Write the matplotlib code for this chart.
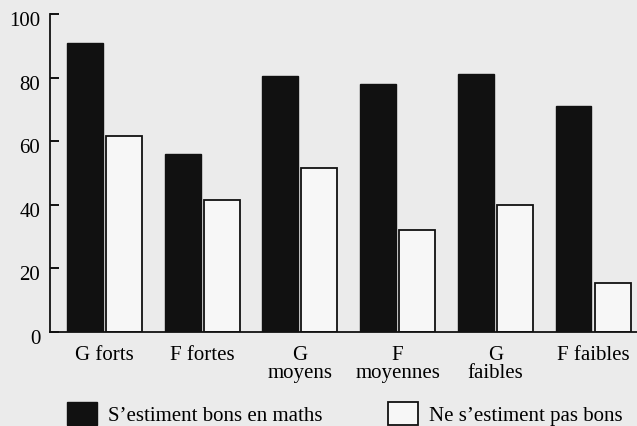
import numpy as np
import matplotlib
matplotlib.use('Agg')
import matplotlib.pyplot as plt
import matplotlib.transforms as mtransforms

# Data
groups = ['G forts', 'F fortes', 'G\nmoyens', 'F\nmoyennes', 'G\nfaibles', 'F faibles']
bons = [91, 56, 80.5, 78, 81, 71]
pas_bons = [61.5, 41.5, 51.5, 32, 40, 15.5]
legend_labels = ["S\u2019estiment bons en maths", "Ne s\u2019estiment pas bons"]
yticks = [0, 20, 40, 60, 80, 100]

plt.rcParams['font.family'] = ['Liberation Serif', 'DejaVu Serif']

bg = '#ebebeb'
fs = 15
fig = plt.figure(figsize=(6.37, 4.27), dpi=100, facecolor=bg)
ax = fig.add_axes([0.0785, 0.22, 0.9215, 0.745], facecolor=bg)

x = np.arange(len(groups))
w = 0.368
b1 = ax.bar(x - 0.2, bons, w, color='#111111', edgecolor='#111111', linewidth=1)
b2 = ax.bar(x + 0.2, pas_bons, w, color='#f7f7f7', edgecolor='#111111', linewidth=1.3)

ax.set_xlim(-0.558, 5.45)
ax.set_ylim(0, 100)
ax.set_yticks(yticks)
ax.set_xticks(x)
ax.set_xticklabels(groups, fontsize=fs, linespacing=0.88, va='top')
ax.tick_params(axis='x', length=0, pad=9.5)
ax.tick_params(axis='y', direction='in', length=6.5, width=1.3, labelsize=fs, pad=7)

# y labels sit a little below their ticks in the scan
shift = mtransforms.ScaledTranslation(0, -4 / 100, fig.dpi_scale_trans)
for lab in ax.get_yticklabels():
    lab.set_transform(lab.get_transform() + shift)

for s in ['top', 'right']:
    ax.spines[s].set_visible(False)
for s in ['left', 'bottom']:
    ax.spines[s].set_linewidth(1.3)
    ax.spines[s].set_color('#111111')

# Legend at bottom, handles partly cut off like the scan
fig.legend([b1, b2], legend_labels, loc='upper left', bbox_to_anchor=(0.105, 0.057),
           ncol=2, frameon=False, fontsize=fs, handlelength=1.45, handleheight=1.35,
           handletextpad=0.53, columnspacing=3.12, borderpad=0, borderaxespad=0)

fig.savefig('out.png', dpi=100, facecolor=bg)
